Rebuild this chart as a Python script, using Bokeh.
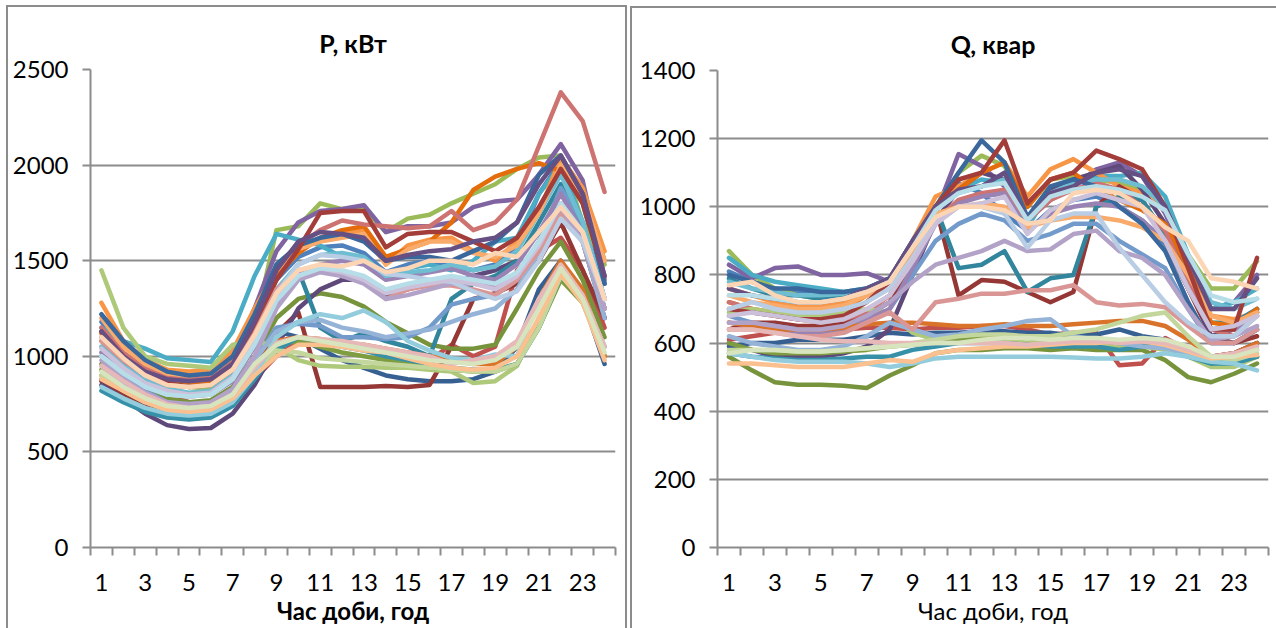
from bokeh.plotting import figure
from bokeh.layouts import row
from bokeh.models import Range1d, FixedTicker
from bokeh.embed import file_html
from bokeh.resources import INLINE

hours = list(range(1, 25))
x_tick_labels = [1, 3, 5, 7, 9, 11, 13, 15, 17, 19, 21, 23]
p_ticks = [0, 500, 1000, 1500, 2000, 2500]
q_ticks = [0, 200, 400, 600, 800, 1000, 1200, 1400]

colors = [
    "#4F81BD", "#C0504D", "#9BBB59", "#8064A2", "#4BACC6", "#F79646",
    "#376092", "#953735", "#77933C", "#5F497A", "#31859C", "#E46C0A",
    "#729ACA", "#CD7371", "#AFC97A", "#9983B5", "#6FBDD1", "#F9AB6B",
    "#3A679C", "#A33D3A", "#7E9C40", "#664F83", "#3590A8", "#D9732A",
    "#95B3D7", "#D99694", "#C3D69B", "#B3A2C7", "#93CDDD", "#FAC090",
    "#B9CDE5", "#E6B9B8", "#D7E4BD", "#CCC1DA", "#B7DEE8", "#FCD5B5",
]

# ---- P, kW (one list per day) ----
p_s00 = [1180,1060,960,900,880,880,960,1180,1400,1520,1570,1580,1540,1440,1480,1500,1470,1450,1480,1580,1850,2020,1800,1380]
p_s01 = [1080,960,860,800,760,760,800,880,1000,1080,1080,1060,1040,1020,1000,980,1060,1000,1050,1450,1550,1620,1450,1150]
p_s02 = [1000,920,860,850,840,830,930,1150,1660,1680,1800,1770,1770,1650,1720,1740,1800,1850,1900,1980,2040,2050,1700,1480]
p_s03 = [1100,980,900,860,850,880,980,1250,1550,1700,1760,1770,1790,1650,1680,1680,1700,1780,1810,1820,1950,2110,1920,1400]
p_s04 = [1150,1080,1040,990,980,970,1130,1420,1640,1610,1580,1520,1500,1420,1460,1480,1450,1500,1600,1620,1850,2000,1700,1300]
p_s05 = [1280,1080,980,930,920,930,1030,1250,1450,1560,1620,1640,1660,1480,1580,1610,1620,1550,1500,1600,1750,2040,1880,1550]
p_s06 = [880,820,780,740,730,740,800,950,1130,1100,1040,980,940,900,880,870,870,880,920,1050,1350,1500,1300,960]
p_s07 = [870,800,750,700,690,700,760,900,1120,1230,840,840,840,845,840,850,1050,1300,1330,1380,1500,1700,1450,1200]
p_s08 = [960,880,820,780,760,770,840,1000,1200,1300,1330,1310,1260,1180,1120,1060,1040,1040,1060,1250,1450,1600,1400,1100]
p_s09 = [850,780,700,640,620,625,700,850,1050,1250,1350,1400,1400,1320,1350,1380,1380,1420,1450,1500,1650,1800,1600,1200]
p_s10 = [1000,920,860,820,800,810,880,1080,1320,1450,1150,1080,1120,1080,1050,1000,1300,1380,1420,1500,1700,1900,1650,1250]
p_s11 = [1120,1000,920,880,860,870,960,1180,1420,1540,1620,1660,1680,1520,1560,1600,1700,1870,1940,1980,2010,1970,1850,1500]
p_s12 = [1000,900,820,760,740,750,820,980,1150,1170,1160,1100,1100,1090,1100,1150,1270,1300,1320,1400,1600,1880,1700,1300]
p_s13 = [1150,1020,940,890,880,890,980,1200,1450,1580,1660,1710,1690,1680,1670,1680,1760,1660,1700,1820,2100,2380,2230,1860]
p_s14 = [1450,1150,1000,960,950,940,1060,1080,1050,980,950,945,945,940,940,930,920,860,870,950,1200,1400,1300,1000]
p_s15 = [1020,930,860,810,790,800,870,1050,1280,1430,1480,1500,1480,1400,1420,1440,1460,1420,1400,1480,1650,1850,1650,1250]
p_s16 = [1050,950,880,830,810,820,900,1100,1350,1480,1530,1540,1520,1420,1440,1450,1480,1450,1470,1550,1750,1950,1700,1300]
p_s17 = [1200,1050,960,910,900,910,1000,1220,1450,1560,1600,1620,1640,1480,1560,1600,1600,1540,1520,1580,1750,2000,1850,1500]
p_s18 = [1220,1080,980,920,900,910,1000,1220,1480,1580,1620,1640,1600,1500,1520,1520,1500,1550,1600,1700,1950,2050,1850,1380]
p_s19 = [1130,1000,910,860,840,850,930,1150,1400,1560,1750,1760,1760,1570,1640,1650,1650,1600,1550,1620,1780,1980,1800,1420]
p_s20 = [930,850,790,750,730,740,800,950,1060,1080,1050,1020,1000,980,960,940,930,920,920,960,1150,1400,1280,1000]
p_s21 = [1130,1000,920,880,870,880,960,1180,1450,1600,1650,1640,1620,1500,1530,1550,1560,1600,1620,1700,1900,2050,1850,1420]
p_s22 = [820,760,710,680,670,680,740,880,1030,1100,1080,1050,1030,1000,980,960,940,930,930,960,1150,1420,1300,1050]
p_s23 = [900,830,780,740,730,740,800,950,1080,1100,1090,1070,1060,1040,1020,1000,980,960,960,1050,1300,1500,1350,1000]
p_s24 = [950,860,800,760,740,750,820,980,1130,1180,1190,1150,1130,1100,1120,1140,1180,1220,1250,1350,1550,1750,1600,1200]
p_s25 = [1080,980,900,850,840,850,930,1120,1350,1450,1470,1420,1400,1300,1350,1370,1370,1350,1320,1400,1550,1750,1600,1250]
p_s26 = [900,820,760,720,710,720,780,930,1030,1020,990,980,970,960,950,940,930,920,920,960,1150,1420,1300,1050]
p_s27 = [980,880,810,760,750,760,830,1000,1250,1400,1440,1420,1380,1300,1320,1350,1380,1380,1360,1420,1600,1780,1600,1250]
p_s28 = [840,780,730,700,690,700,760,900,1100,1180,1220,1200,1240,1180,1080,1030,990,980,1010,1000,1300,1450,1300,1050]
p_s29 = [880,820,760,720,710,720,780,900,1000,1060,1060,1050,1030,1020,990,960,940,930,940,1000,1200,1430,1280,980]
p_s30 = [1000,920,840,800,790,800,880,1080,1330,1480,1530,1520,1500,1430,1420,1400,1390,1340,1300,1340,1500,1720,1600,1300]
p_s31 = [950,870,800,750,730,740,800,940,1070,1100,1090,1080,1060,1040,1020,1000,960,980,1000,1080,1300,1480,1320,1050]
p_s32 = [920,840,780,740,730,740,800,960,1060,1100,1080,1060,1040,1020,1000,980,970,960,980,1050,1250,1460,1300,1020]
p_s33 = [1040,940,860,820,800,810,890,1080,1300,1420,1460,1440,1400,1330,1360,1380,1400,1380,1350,1420,1580,1800,1650,1300]
p_s34 = [1000,910,840,800,790,800,880,1060,1290,1420,1460,1450,1420,1350,1380,1400,1420,1400,1380,1440,1600,1800,1650,1300]
p_s35 = [1100,990,900,850,840,850,930,1110,1330,1450,1480,1470,1500,1440,1460,1500,1500,1480,1540,1520,1650,1780,1650,1300]

# ---- Q, kvar (one list per day) ----
q_s00 = [810,780,760,750,740,735,750,790,890,990,1070,1040,980,930,990,1020,1030,1000,960,890,760,640,650,700]
q_s01 = [610,620,630,640,640,640,645,645,640,645,645,650,650,640,625,630,630,535,540,615,580,560,570,600]
q_s02 = [870,800,760,740,730,735,760,790,890,1000,1100,1150,1120,1000,1080,1090,1080,1070,1050,1000,860,760,760,840]
q_s03 = [830,790,820,825,800,800,805,780,880,980,1155,1120,1060,960,1020,1060,1110,1130,1090,980,830,700,720,800]
q_s04 = [850,800,780,770,760,750,760,790,900,1000,1050,1080,1070,940,1050,1080,1090,1090,1100,1030,860,700,720,760]
q_s05 = [760,740,720,710,710,720,750,790,900,1030,1060,1100,1130,1030,1110,1140,1100,1060,1040,1000,850,680,670,690]
q_s06 = [590,600,600,610,610,610,620,630,625,630,630,635,635,630,630,620,625,640,620,610,580,560,570,600]
q_s07 = [640,660,660,650,650,660,680,720,850,1000,740,785,780,750,720,750,1000,1060,1020,900,760,620,600,620]
q_s08 = [560,520,485,478,478,475,468,505,535,570,580,580,585,585,580,585,580,580,580,550,500,485,510,540]
q_s09 = [600,580,560,560,560,570,590,640,800,960,1050,1100,1080,960,1050,1080,1100,1120,1050,950,780,620,640,690]
q_s10 = [790,760,740,740,730,740,760,780,870,1000,820,830,870,750,790,800,1000,1030,1020,920,780,660,660,700]
q_s11 = [720,700,690,680,690,700,740,780,880,1000,1050,1100,1130,1000,1080,1100,1050,1020,990,950,820,660,650,700]
q_s12 = [680,660,650,640,630,640,660,700,800,900,950,980,960,900,920,950,950,900,860,820,700,600,600,640]
q_s13 = [720,700,680,670,660,670,690,740,860,960,1020,1040,1050,960,1020,1050,1070,1050,1000,930,780,640,620,680]
q_s14 = [690,700,690,680,680,690,700,690,630,610,605,610,610,600,600,610,600,590,590,580,560,530,530,560]
q_s15 = [660,650,640,630,630,640,670,700,820,950,1010,1030,1040,930,980,1000,1010,1000,960,900,760,640,640,680]
q_s16 = [780,760,750,740,740,745,760,790,890,1000,1040,1060,1080,960,1040,1070,1080,1080,1060,1000,850,720,700,730]
q_s17 = [740,720,710,700,700,710,740,780,870,980,1000,1010,1000,940,960,970,970,960,940,900,800,680,660,690]
q_s18 = [800,780,760,760,750,750,760,790,900,1000,1100,1195,1130,970,1060,1080,1060,1000,950,870,720,600,600,640]
q_s19 = [700,690,680,670,670,680,720,780,880,1000,1080,1100,1195,1010,1080,1100,1165,1140,1110,1000,820,640,640,850]
q_s20 = [600,580,570,570,570,575,580,590,595,600,610,615,620,615,610,615,605,600,600,590,570,540,550,560]
q_s21 = [760,740,730,720,720,730,760,790,900,1000,1050,1060,1100,960,1040,1060,1100,1110,1090,1000,850,700,700,790]
q_s22 = [570,560,555,550,550,555,560,560,580,590,600,600,600,595,590,590,590,580,590,590,560,540,540,560]
q_s23 = [660,650,640,640,640,645,655,660,660,655,650,650,655,650,650,655,660,665,665,650,610,560,570,600]
q_s24 = [620,600,590,580,580,590,620,660,640,620,625,640,650,665,670,620,610,600,590,585,570,560,560,580]
q_s25 = [640,640,630,620,620,630,660,690,640,720,730,745,745,755,755,770,720,710,715,705,650,600,600,640]
q_s26 = [580,580,580,575,575,580,585,590,600,610,620,625,625,620,620,630,640,660,680,690,620,560,550,570]
q_s27 = [660,660,650,640,640,650,680,720,780,830,850,870,900,870,875,920,930,870,850,800,700,610,620,650]
q_s28 = [570,560,550,545,545,545,540,530,540,555,560,560,560,560,560,558,555,555,560,570,560,545,540,520]
q_s29 = [540,540,535,530,530,530,540,550,545,570,580,585,590,590,595,600,600,605,605,595,575,555,560,565]
q_s30 = [700,720,700,690,690,700,720,760,850,960,1000,1000,980,880,960,980,980,880,800,720,660,620,620,680]
q_s31 = [640,640,630,620,610,605,605,600,600,600,600,600,600,595,600,605,605,600,605,600,580,560,570,590]
q_s32 = [570,580,580,575,575,580,585,590,595,600,600,610,615,615,610,615,615,610,615,610,590,560,560,580]
q_s33 = [680,690,680,670,660,670,700,740,840,950,1000,1010,1030,920,990,1020,1040,1020,1000,900,760,640,650,680]
q_s34 = [740,740,730,720,720,730,750,780,880,990,1040,1060,1070,960,1030,1050,1060,1050,1030,990,860,740,720,730]
q_s35 = [770,780,740,720,720,730,750,780,880,970,1000,1000,990,950,960,1040,1050,1040,1000,940,900,790,780,760]

p_series = [p_s00, p_s01, p_s02, p_s03, p_s04, p_s05, p_s06, p_s07, p_s08, p_s09, p_s10, p_s11,
            p_s12, p_s13, p_s14, p_s15, p_s16, p_s17, p_s18, p_s19, p_s20, p_s21, p_s22, p_s23,
            p_s24, p_s25, p_s26, p_s27, p_s28, p_s29, p_s30, p_s31, p_s32, p_s33, p_s34, p_s35]
q_series = [q_s00, q_s01, q_s02, q_s03, q_s04, q_s05, q_s06, q_s07, q_s08, q_s09, q_s10, q_s11,
            q_s12, q_s13, q_s14, q_s15, q_s16, q_s17, q_s18, q_s19, q_s20, q_s21, q_s22, q_s23,
            q_s24, q_s25, q_s26, q_s27, q_s28, q_s29, q_s30, q_s31, q_s32, q_s33, q_s34, q_s35]

FONT = "Lato"
GRAY = "#8c8c8c"
TXT = "#000000"
BORDER = "2px solid #8c8c8c"


def make_panel(title, series, y_max, y_ticks, width, height, borders, xlabel_bold):
    p = figure(width=width, height=height, output_backend="svg", toolbar_location=None,
               x_range=Range1d(0.5, 24.5), y_range=Range1d(0, y_max),
               min_border_left=borders[0], min_border_right=borders[1],
               min_border_top=borders[2], min_border_bottom=borders[3],
               title=title)
    p.outline_line_color = None
    p.background_fill_color = "white"
    p.border_fill_color = "white"
    p.title.text_font = FONT
    p.title.text_font_size = "25px"
    p.title.text_font_style = "bold"
    p.title.text_color = TXT
    p.title.align = "center"
    p.title.standoff = 23

    for s, c in zip(series, colors):
        p.line(hours, s, line_color=c, line_width=4.5, line_join="round", line_cap="round")

    # x axis: labels at odd hours, tick marks at category boundaries
    p.xaxis.ticker = FixedTicker(ticks=x_tick_labels, minor_ticks=[h - 0.5 for h in hours] + [24.5])
    p.xaxis.major_tick_line_color = None
    p.xaxis.major_tick_out = 0
    p.xaxis.major_tick_in = 0
    p.xaxis.minor_tick_line_color = GRAY
    p.xaxis.minor_tick_line_width = 2
    p.xaxis.minor_tick_out = 8
    p.xaxis.minor_tick_in = 0
    p.xaxis.major_label_standoff = 18
    p.xaxis.axis_label = "Час доби, год"
    p.xaxis.axis_label_text_font = FONT
    p.xaxis.axis_label_text_font_size = "24px"
    p.xaxis.axis_label_text_font_style = "bold" if xlabel_bold else "normal"
    p.xaxis.axis_label_text_color = TXT
    p.xaxis.axis_label_standoff = 2

    p.yaxis.ticker = FixedTicker(ticks=y_ticks, minor_ticks=[])
    p.yaxis.major_tick_out = 8
    p.yaxis.major_tick_in = 0
    p.yaxis.major_tick_line_color = GRAY
    p.yaxis.major_tick_line_width = 2
    p.yaxis.major_label_standoff = 14

    for ax in (p.xaxis, p.yaxis):
        ax.axis_line_color = GRAY
        ax.axis_line_width = 2
        ax.major_label_text_font = FONT
        ax.major_label_text_font_size = "24px"
        ax.major_label_text_color = TXT

    p.xgrid.grid_line_color = None
    p.ygrid.ticker = FixedTicker(ticks=y_ticks)
    p.ygrid.grid_line_color = GRAY
    p.ygrid.grid_line_width = 2
    return p


# left panel: outer border box x 6..627, y 5..628 (border-box sizing)
p1 = make_panel("P, кВт", p_series, 2500, p_ticks, 621, 623, (82, 14, 62, 83), True)
p1.margin = (5, 0, 0, 6)
p1.styles = {"border-left": BORDER, "border-top": BORDER, "border-right": BORDER}

# right panel: outer border box x 630..1276, y 6..628
p2 = make_panel("Q, квар", q_series, 1400, q_ticks, 646, 622, (85, 10, 56, 83), False)
p2.margin = (6, 0, 0, 3)
p2.styles = {"border-left": BORDER, "border-top": BORDER}

layout = row(p1, p2)
open("out.html", "w").write(file_html(layout, INLINE))
